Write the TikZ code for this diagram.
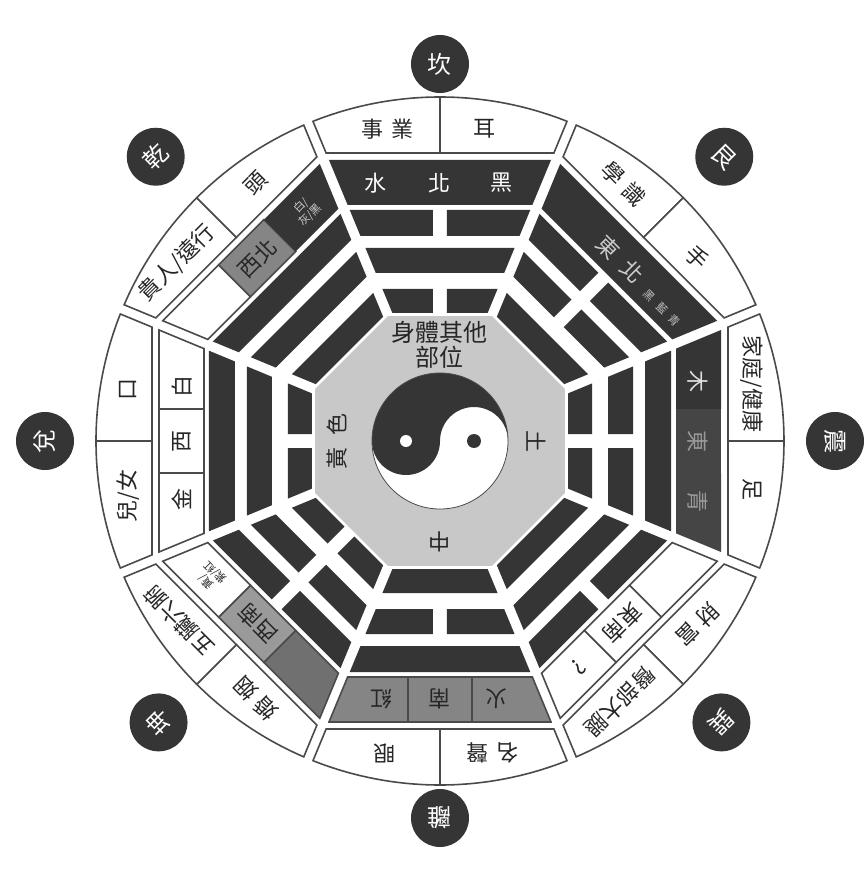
\documentclass[tikz,border=0pt]{standalone}
\usepackage{fontspec}
\newfontfamily\cjk{Noto Sans CJK TC}
\usepackage{tikz}
\usetikzlibrary{calc}
\definecolor{inkdark}{HTML}{353535}
\definecolor{inktext}{HTML}{262626}
\definecolor{edgegray}{HTML}{4A4A4A}
\definecolor{centergray}{HTML}{C8C8C8}
\definecolor{midgray}{HTML}{858585}
\definecolor{woodgray}{HTML}{454545}
\definecolor{earthgray}{HTML}{9A9A9A}
\definecolor{claygray}{HTML}{707070}

% sector geometry: tan(22.5) and offset of the white gaps
\newcommand\tanhalf{0.41421}
\newcommand\gapoff{5.4}
\newcommand\yangline[2]{\fill[yaobar] ({-(#1*\tanhalf-\gapoff)},#1) -- ({#1*\tanhalf-\gapoff},#1) -- ({#2*\tanhalf-\gapoff},#2) -- ({-(#2*\tanhalf-\gapoff)},#2) -- cycle;}
\newcommand\yinline[2]{\fill[yaobar] ({-(#1*\tanhalf-\gapoff)},#1) -- (-7,#1) -- (-7,#2) -- ({-(#2*\tanhalf-\gapoff)},#2) -- cycle;
  \fill[yaobar] (7,#1) -- ({#1*\tanhalf-\gapoff},#1) -- ({#2*\tanhalf-\gapoff},#2) -- (7,#2) -- cycle;}
% outer, middle, inner line
\newcommand\trigram[3]{#1{205}{231}#2{168}{193}#3{128}{152}}
\newcommand\bandfull[1]{\path[#1] ({-(236*\tanhalf-\gapoff)},236) -- ({236*\tanhalf-\gapoff},236) -- ({281*\tanhalf-\gapoff},281) -- ({-(281*\tanhalf-\gapoff)},281) -- cycle;}
\newcommand\bandleft[1]{\path[#1] ({-(236*\tanhalf-\gapoff)},236) -- (-32,236) -- (-32,281) -- ({-(281*\tanhalf-\gapoff)},281) -- cycle;}
\newcommand\bandmid[1]{\path[#1] (-32,236) rectangle (32,281);}
\newcommand\bandright[1]{\path[#1] (32,236) -- ({236*\tanhalf-\gapoff},236) -- ({281*\tanhalf-\gapoff},281) -- (32,281) -- cycle;}
\newcommand\outerbox{\path[boxline, fill=white] ({-(288*\tanhalf-\gapoff)},288) -- (0,288) -- (0,344) arc[start angle=90, end angle=111.67, radius=344] -- cycle;
  \path[boxline, fill=white] (0,288) -- ({288*\tanhalf-\gapoff},288) -- (68.33:344) arc[start angle=68.33, end angle=90, radius=344] -- cycle;}

\begin{document}
\begin{tikzpicture}[
  x=1pt, y=1pt,
  yaobar/.style={fill=inkdark},
  boxline/.style={draw=edgegray, line width=1.6pt},
  boxtext/.style={font=\cjk\fontsize{22}{24}\selectfont, text=inktext, inner sep=0pt},
  bandtext/.style={font=\cjk\fontsize{22}{24}\selectfont, inner sep=0pt},
  smalltext/.style={font=\cjk\fontsize{11}{13}\selectfont, inner sep=0pt, align=center},
  badge/.style={circle, fill=inkdark, minimum size=58pt, inner sep=0pt, text=white, font=\cjk\fontsize{24}{26}\selectfont}
]
\useasboundingbox (-440,-432) rectangle (427,441);
\fill[white] (-440,-432) rectangle (427,441);

% centre
\fill[centergray] (22.5:135.3) \foreach \a in {67.5,112.5,...,337.5}{ -- (\a:135.3)} -- cycle;
\fill[white] (0,0) circle[radius=68];
\fill[inkdark] (-68,0) arc[start angle=180, end angle=0, radius=68] arc[start angle=0, end angle=180, radius=34] arc[start angle=0, end angle=-180, radius=34] -- cycle;
\fill[white] (-34,0) circle[radius=6];
\fill[inkdark] (34,0) circle[radius=7];
\draw[edgegray, line width=0.8pt] (0,0) circle[radius=68];
\node[boxtext, align=center, font=\cjk\fontsize{24}{25}\selectfont] (body) at (0,96) {身體其他\\部位};
\node[boxtext, rotate=90] (yellow) at (-103,0) {黃\hspace{12pt}色};
\node[boxtext, rotate=-90] (earth) at (96,0) {土};
\node[boxtext, rotate=180] (middle) at (0,-101) {中};

% kan
\begin{scope}[rotate=0, transform shape]
  \outerbox
  \node[boxtext] (kan-a) at (-52,312) {事\hspace{8pt}業};
  \node[boxtext] (kan-b) at (45,312) {耳};
  \bandfull{fill=inkdark}
  \node[bandtext, text=white] (kan-c) at (-64,258) {水};
  \node[bandtext, text=white] (kan-d) at (0,258) {北};
  \node[bandtext, text=white] (kan-e) at (62,258) {黑};
  \trigram\yinline\yangline\yinline
  \node[badge] (kan) at (0,377) {坎};
\end{scope}

% gen
\begin{scope}[rotate=-45, transform shape]
  \outerbox
  \node[boxtext] (gen-a) at (-52,312) {學\hspace{8pt}識};
  \node[boxtext] (gen-b) at (52,312) {手};
  \bandfull{fill=inkdark}
  \node[bandtext, text=gray!40] (gen-c) at (-18,256) {東};
  \node[bandtext, text=gray!40] (gen-d) at (16,256) {北};
  \node[smalltext, text=gray!50] (gen-e) at (63,251) {黑\hspace{7pt}藍\hspace{7pt}青};
  \trigram\yinline\yinline\yangline
  \node[badge] (gen) at (0,402) {艮};
\end{scope}

% zhen
\begin{scope}[rotate=-90, transform shape]
  \outerbox
  \node[boxtext] (zhen-a) at (-57,312) {家庭/健康};
  \node[boxtext] (zhen-b) at (48,312) {足};
  \bandleft{fill=inkdark}
  \bandmid{fill=woodgray}
  \bandright{fill=woodgray}
  \node[bandtext, text=gray!25] (zhen-c) at (-60,258) {木};
  \node[bandtext, text=gray!80] (zhen-d) at (0,258) {東};
  \node[bandtext, text=gray!80] (zhen-e) at (60,258) {青};
  \trigram\yangline\yinline\yinline
  \node[badge] (zhen) at (0,395) {震};
\end{scope}

% xun
\begin{scope}[rotate=-135, transform shape]
  \outerbox
  \node[boxtext] (xun-a) at (-52,312) {財\hspace{6pt}富};
  \node[boxtext] (xun-b) at (57,312) {臀部大腿};
  \bandleft{boxline, fill=white}
  \bandmid{boxline, fill=white}
  \bandright{boxline, fill=white}
  \node[bandtext, text=inktext] (xun-c) at (0,258) {東南};
  \node[bandtext, text=inktext] (xun-d) at (62,258) {?};
  \trigram\yinline\yangline\yangline
  \node[badge] (xun) at (0,398) {巽};
\end{scope}

% li
\begin{scope}[rotate=180, transform shape]
  \outerbox
  \node[boxtext] (li-a) at (-52,312) {名\hspace{8pt}聲};
  \node[boxtext] (li-b) at (55,312) {眼};
  \bandleft{boxline, fill=midgray}
  \bandmid{boxline, fill=midgray}
  \bandright{boxline, fill=midgray}
  \node[bandtext, text=inktext] (li-c) at (-56,258) {火};
  \node[bandtext, text=inktext] (li-d) at (0,258) {南};
  \node[bandtext, text=inktext] (li-e) at (58,258) {紅};
  \trigram\yangline\yinline\yangline
  \node[badge] (li) at (0,377) {離};
\end{scope}

% kun
\begin{scope}[rotate=135, transform shape]
  \outerbox
  \node[boxtext] (kun-a) at (-52,312) {婚\hspace{6pt}姻};
  \node[boxtext] (kun-b) at (57,312) {五臟六腑};
  \bandleft{boxline, fill=claygray}
  \bandmid{boxline, fill=earthgray}
  \bandright{boxline, fill=white}
  \node[bandtext, text=inktext] (kun-c) at (0,258) {西南};
  \node[smalltext, text=inktext] (kun-d) at (66,258) {黃/\\紫/紅};
  \trigram\yinline\yinline\yinline
  \node[badge] (kun) at (0,398) {坤};
\end{scope}

% dui
\begin{scope}[rotate=90, transform shape]
  \outerbox
  \node[boxtext] (dui-a) at (-55,312) {兒/女};
  \node[boxtext] (dui-b) at (52,312) {口};
  \bandleft{boxline, fill=white}
  \bandmid{boxline, fill=white}
  \bandright{boxline, fill=white}
  \node[bandtext, text=inktext] (dui-c) at (-58,258) {金};
  \node[bandtext, text=inktext] (dui-d) at (0,258) {西};
  \node[bandtext, text=inktext] (dui-e) at (55,258) {白};
  \trigram\yangline\yangline\yinline
  \node[badge] (dui) at (0,395) {兌};
\end{scope}

% qian
\begin{scope}[rotate=45, transform shape]
  \outerbox
  \node[boxtext] (qian-a) at (-60,312) {貴人/遠行};
  \node[boxtext] (qian-b) at (52,312) {頭};
  \bandleft{boxline, fill=white}
  \bandmid{boxline, fill=midgray}
  \bandright{fill=inkdark}
  \node[bandtext, text=inktext] (qian-c) at (0,258) {西北};
  \node[smalltext, text=gray!40] (qian-d) at (68,258) {白/\\灰/黑};
  \trigram\yangline\yangline\yangline
  \node[badge] (qian) at (0,402) {乾};
\end{scope}
\end{tikzpicture}
\end{document}
